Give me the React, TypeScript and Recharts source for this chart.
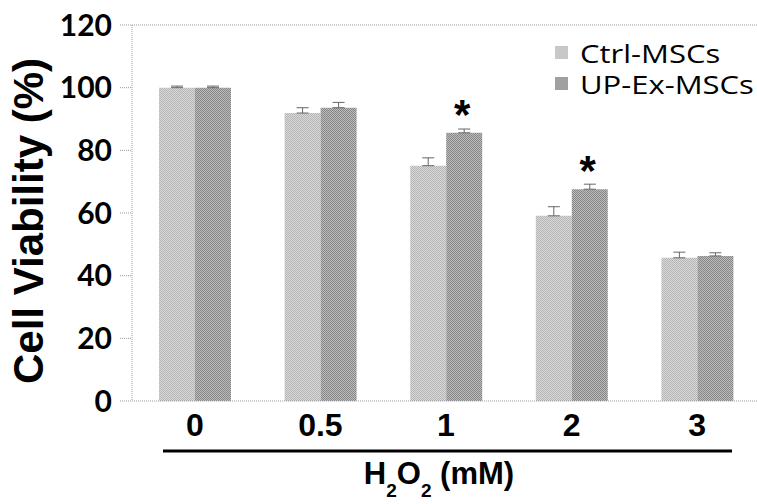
import React from "react";
import {
    Bar,
    BarChart,
    Customized,
    ErrorBar,
    LabelList,
    Legend,
    ReferenceLine,
    XAxis,
    YAxis,
} from "recharts";

const doses = ["0", "0.5", "1", "2", "3"];
const ctrlMSCs = [100, 91.9, 75.1, 59.1, 45.7];
const upExMSCs = [100, 93.6, 85.6, 67.6, 46.3];
const ctrlErr = [0.5, 1.7, 2.5, 2.9, 1.8];
const upErr = [0.5, 1.7, 1.2, 1.6, 1.0];
const marks = ["", "", "*", "*", ""];
const yTicks = [0, 20, 40, 60, 80, 100, 120];

const data = doses.map((dose, i) => ({
    dose,
    ctrl: ctrlMSCs[i],
    up: upExMSCs[i],
    ctrlErr: [0, ctrlErr[i]],
    upErr: [0, upErr[i]],
    mark: marks[i],
}));

const ARIAL = "'Liberation Sans', Arial, sans-serif";
const dotted = { stroke: "#9a9a9a", strokeDasharray: "1 1" };

function StarLabel(props: any) {
    const { x, y, width, value } = props;
    if (!value) return null;
    return (
        <text
            x={x + width / 2 - 2}
            y={y - 4}
            textAnchor="middle"
            fontFamily={ARIAL}
            fontWeight="bold"
            fontSize={42}
            fill="#000"
        >
            {value}
        </text>
    );
}

function Titles() {
    return (
        <g>
            <text
                x={43}
                y={221}
                transform="rotate(-90, 43, 221)"
                textAnchor="middle"
                fontFamily={ARIAL}
                fontWeight="bold"
                fontSize={42}
                fill="#000"
            >
                Cell Viability (%)
            </text>
            <line x1={163} x2={732} y1={451} y2={451} stroke="#000" strokeWidth={3} />
            <text
                x={439}
                y={484}
                textAnchor="middle"
                fontFamily={ARIAL}
                fontWeight="bold"
                fontSize={31}
                fill="#000"
            >
                H<tspan fontSize={19} dy={13}>2</tspan>
                <tspan dy={-13}>O</tspan>
                <tspan fontSize={19} dy={13}>2</tspan>
                <tspan dy={-13}> (mM)</tspan>
            </text>
        </g>
    );
}

function LegendBox() {
    const items = [
        { name: "Ctrl-MSCs", color: "#c8c8c8" },
        { name: "UP-Ex-MSCs", color: "#a0a0a0" },
    ];
    return (
        <div style={{ fontFamily: "'Open Sans', sans-serif", fontSize: 25 }}>
            {items.map((it) => (
                <div
                    key={it.name}
                    style={{ display: "flex", alignItems: "center", height: 31 }}
                >
                    <span
                        style={{
                            width: 13,
                            height: 13,
                            background: it.color,
                            marginRight: 12,
                            display: "inline-block",
                        }}
                    />
                    <span
                        style={{
                            display: "inline-block",
                            transform: "scaleX(1.24)",
                            transformOrigin: "left center",
                            color: "#000",
                        }}
                    >
                        {it.name}
                    </span>
                </div>
            ))}
        </div>
    );
}

export default function App() {
    return (
        <div style={{ position: "absolute", left: 0, top: 0, width: 770, height: 504 }}>
            <BarChart
                width={770}
                height={504}
                data={data}
                margin={{ top: 25, right: 10, left: 0, bottom: 0 }}
                barGap={0}
                barCategoryGap={27}
            >
                <defs>
                    <pattern id="ctrlFill" width="2" height="2" patternUnits="userSpaceOnUse">
                        <rect width="2" height="2" fill="#d8d8d8" />
                        <rect width="1" height="1" fill="#b6b6b6" />
                        <rect x="1" y="1" width="1" height="1" fill="#b6b6b6" />
                    </pattern>
                    <pattern id="upFill" width="2" height="2" patternUnits="userSpaceOnUse">
                        <rect width="2" height="2" fill="#bcbcbc" />
                        <rect width="1" height="1" fill="#868686" />
                        <rect x="1" y="1" width="1" height="1" fill="#868686" />
                    </pattern>
                </defs>
                <ReferenceLine y={120} {...dotted} />
                <XAxis
                    dataKey="dose"
                    height={103}
                    axisLine={dotted}
                    tickLine={false}
                    tickSize={0}
                    tickMargin={12}
                    tick={{
                        fontFamily: ARIAL,
                        fontWeight: "bold",
                        fontSize: 32,
                        fill: "#000",
                    }}
                />
                <YAxis
                    width={132}
                    domain={[0, 120]}
                    ticks={yTicks}
                    interval={0}
                    axisLine={dotted}
                    tickLine={dotted}
                    tickSize={12}
                    tickMargin={8}
                    tick={{
                        fontFamily: "Lato, sans-serif",
                        fontWeight: "bold",
                        fontSize: 30,
                        fill: "#000",
                    }}
                />
                <Legend
                    layout="vertical"
                    align="center"
                    verticalAlign="middle"
                    content={<LegendBox />}
                    wrapperStyle={{ left: 555, top: 37, width: 200, height: 70 }}
                />
                <Bar dataKey="ctrl" name="Ctrl-MSCs" fill="url(#ctrlFill)" isAnimationActive={false}>
                    <ErrorBar dataKey="ctrlErr" direction="y" width={6} stroke="#666" strokeWidth={1} />
                </Bar>
                <Bar dataKey="up" name="UP-Ex-MSCs" fill="url(#upFill)" isAnimationActive={false}>
                    <ErrorBar dataKey="upErr" direction="y" width={6} stroke="#666" strokeWidth={1} />
                    <LabelList dataKey="mark" content={<StarLabel />} />
                </Bar>
                <Customized component={Titles} />
            </BarChart>
        </div>
    );
}
